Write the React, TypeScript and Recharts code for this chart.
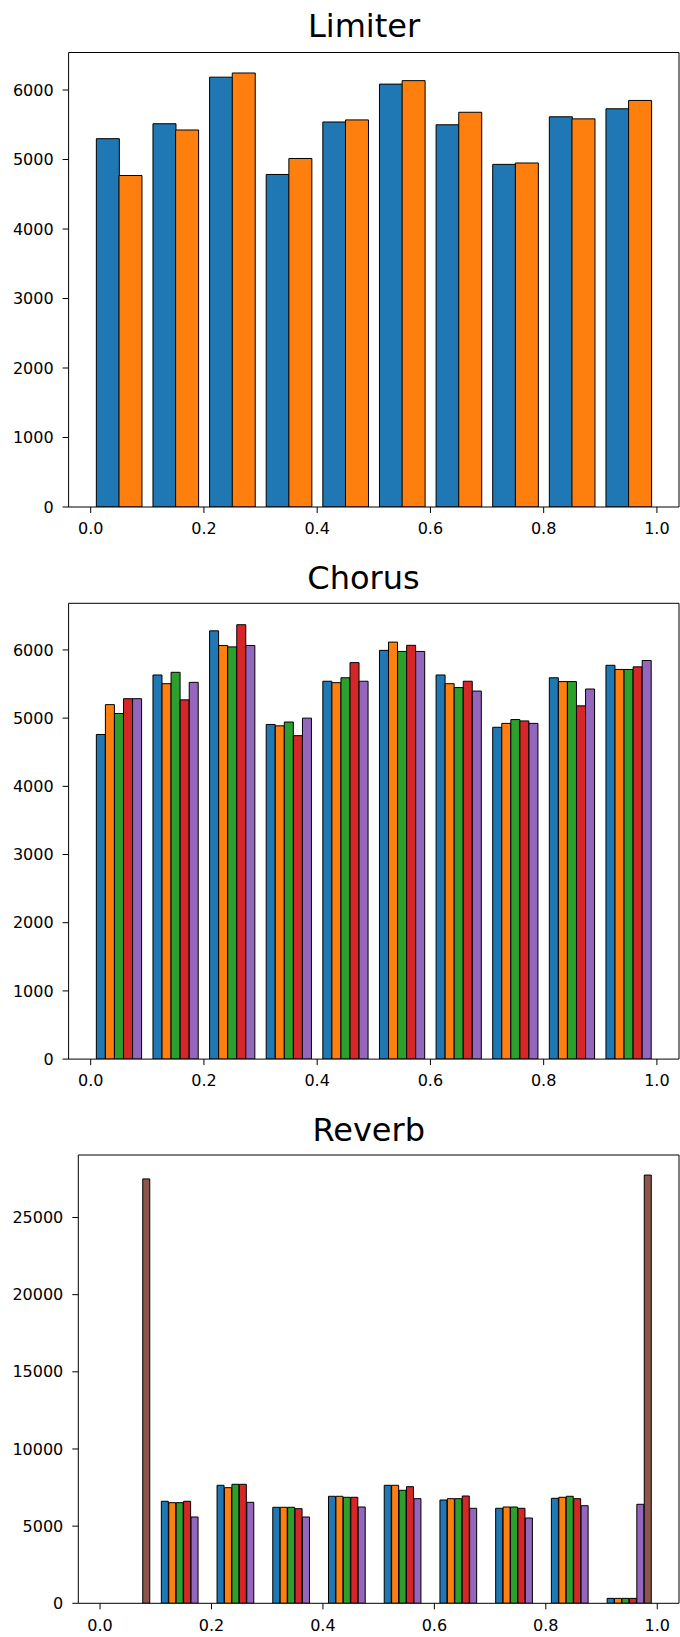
import React from 'react';
import { BarChart, Bar, XAxis, YAxis, Cell, ReferenceLine } from 'recharts';

// Histogram bins (left edges) and axis ticks
const binStarts = [0, 0.1, 0.2, 0.3, 0.4, 0.5, 0.6, 0.7, 0.8, 0.9];
const xTicks = [0, 0.2, 0.4, 0.6, 0.8, 1.0];
const xDomain: [number, number] = [-0.039, 1.039];

// Limiter (2 series)
const limiterBlue = [5300, 5515, 6185, 4785, 5540, 6085, 5500, 4930, 5615, 5730];
const limiterOrange = [4770, 5425, 6245, 5015, 5570, 6135, 5680, 4950, 5585, 5850];
const limiterYTicks = [0, 1000, 2000, 3000, 4000, 5000, 6000];

// Chorus (5 series)
const chorusBlue = [4760, 5633, 6280, 4907, 5541, 5994, 5633, 4866, 5592, 5775];
const chorusOrange = [5198, 5505, 6065, 4887, 5520, 6115, 5505, 4923, 5536, 5714];
const chorusGreen = [5068, 5672, 6045, 4943, 5592, 5978, 5448, 4979, 5536, 5714];
const chorusRed = [5285, 5268, 6370, 4743, 5814, 6068, 5541, 4959, 5180, 5752];
const chorusPurple = [5285, 5525, 6065, 5000, 5541, 5978, 5397, 4923, 5427, 5845];
const chorusYTicks = [0, 1000, 2000, 3000, 4000, 5000, 6000];

// Reverb (6 series)
const reverbBlue = [0, 6610, 7647, 6222, 6935, 7647, 6695, 6157, 6805, 320];
const reverbOrange = [0, 6520, 7492, 6222, 6935, 7647, 6779, 6241, 6870, 320];
const reverbGreen = [0, 6520, 7712, 6222, 6870, 7323, 6779, 6241, 6935, 320];
const reverbRed = [0, 6610, 7712, 6131, 6870, 7557, 6954, 6157, 6779, 320];
const reverbPurple = [0, 5593, 6546, 5593, 6241, 6779, 6157, 5528, 6325, 6416];
const reverbBrown = [27500, 0, 0, 0, 0, 0, 0, 0, 0, 27750];
const reverbYTicks = [0, 5000, 10000, 15000, 20000, 25000];

const palette = ['#1f77b4', '#ff7f0e', '#2ca02c', '#d62728', '#9467bd', '#8c564b'];

type Slot = { x: number; v: number; c: string };

function buildSlots(series: number[][]): Slot[] {
  const n = series.length;
  const w = 0.08 / n;
  const rows: Slot[] = [];
  binStarts.forEach((b, k) => {
    series.forEach((s, j) => {
      rows.push({ x: +(b + 0.01 + (j + 0.5) * w).toFixed(6), v: s[k], c: palette[j] });
    });
  });
  return rows;
}

const FONT = '"DejaVu Sans", sans-serif';
const tickStyle = { fontSize: 16, fill: '#000', fontFamily: FONT };

type PanelProps = {
  top: number;
  height: number;
  marginTop: number;
  marginBottom: number;
  yAxisWidth: number;
  yMax: number;
  yTicks: number[];
  series: number[][];
};

function Panel({ top, height, marginTop, marginBottom, yAxisWidth, yMax, yTicks, series }: PanelProps) {
  const data = buildSlots(series);
  return (
    <div style={{ position: 'absolute', left: 0, top, width: 680, height }}>
      <BarChart
        width={680}
        height={height}
        data={data}
        margin={{ top: marginTop, right: 1, bottom: marginBottom, left: 0 }}
        barCategoryGap={0}
        barGap={0}
      >
        <XAxis
          dataKey="x"
          type="number"
          domain={xDomain}
          ticks={xTicks}
          allowDataOverflow
          interval={0}
          tickFormatter={(v: number) => Number(v).toFixed(1)}
          tick={tickStyle}
          tickLine={{ stroke: '#000' }}
          axisLine={{ stroke: '#000' }}
          tickSize={6}
          tickMargin={10}
          height={30}
        />
        <YAxis
          type="number"
          domain={[0, yMax]}
          ticks={yTicks}
          allowDataOverflow
          interval={0}
          width={yAxisWidth}
          tick={tickStyle}
          tickLine={{ stroke: '#000' }}
          axisLine={{ stroke: '#000' }}
          tickSize={6}
          tickMargin={9}
        />
        <ReferenceLine y={yMax} stroke="#000" />
        <ReferenceLine x={xDomain[1]} stroke="#000" />
        <Bar dataKey="v" isAnimationActive={false} stroke="#000" strokeWidth={1}>
          {data.map((d, i) => (
            <Cell key={i} fill={d.c} />
          ))}
        </Bar>
      </BarChart>
    </div>
  );
}

export default function App() {
  return (
    <div style={{ position: 'absolute', left: 0, top: 0, width: 680, height: 1637, background: '#fff' }}>
      <Panel
        top={0}
        height={545}
        marginTop={52.5}
        marginBottom={8}
        yAxisWidth={68.6}
        yMax={6540}
        yTicks={limiterYTicks}
        series={[limiterBlue, limiterOrange]}
      />
      <Panel
        top={545}
        height={545}
        marginTop={58.3}
        marginBottom={0.9}
        yAxisWidth={68.6}
        yMax={6684}
        yTicks={chorusYTicks}
        series={[chorusBlue, chorusOrange, chorusGreen, chorusRed, chorusPurple]}
      />
      <Panel
        top={1090}
        height={547}
        marginTop={65}
        marginBottom={3.7}
        yAxisWidth={78.3}
        yMax={29050}
        yTicks={reverbYTicks}
        series={[reverbBlue, reverbOrange, reverbGreen, reverbRed, reverbPurple, reverbBrown]}
      />
      <svg
        width={680}
        height={1637}
        style={{ position: 'absolute', left: 0, top: 0, pointerEvents: 'none' }}
      >
        <text x={364} y={37.3} textAnchor="middle" fontSize={32} fontFamily={FONT} fill="#000">
          Limiter
        </text>
        <text x={363.5} y={589} textAnchor="middle" fontSize={32} fontFamily={FONT} fill="#000">
          Chorus
        </text>
        <text x={368.7} y={1140.6} textAnchor="middle" fontSize={32} fontFamily={FONT} fill="#000">
          Reverb
        </text>
      </svg>
    </div>
  );
}
